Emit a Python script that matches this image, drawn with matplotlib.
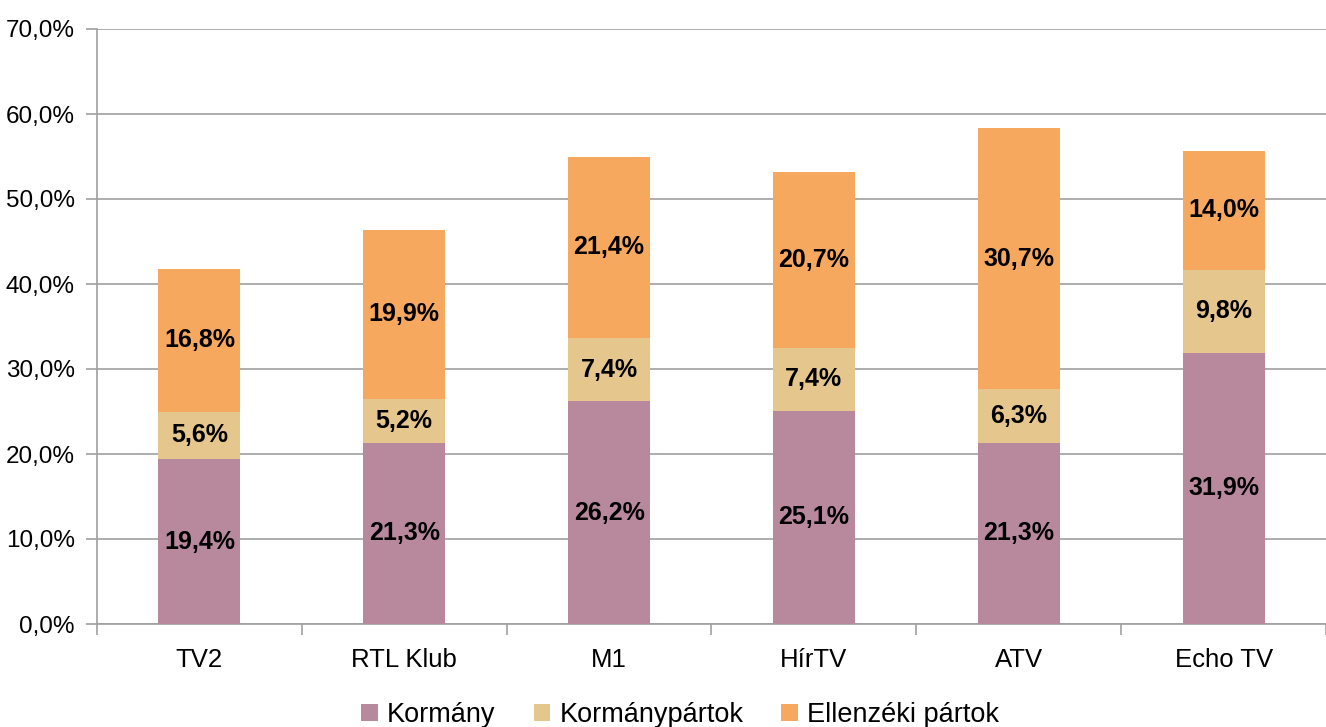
import matplotlib.pyplot as plt
import numpy as np

plt.rcParams['font.family'] = ['Liberation Sans', 'DejaVu Sans']

channels = ["TV2", "RTL Klub", "M1", "HírTV", "ATV", "Echo TV"]
kormany = [19.4, 21.3, 26.2, 25.1, 21.3, 31.9]
kormanypartok = [5.6, 5.2, 7.4, 7.4, 6.3, 9.8]
ellenzeki = [16.8, 19.9, 21.4, 20.7, 30.7, 14.0]

series = [("Kormány", kormany, "#B8899D"),
          ("Kormánypártok", kormanypartok, "#E5C68C"),
          ("Ellenzéki pártok", ellenzeki, "#F7A85F")]

fig = plt.figure(figsize=(13.26, 7.27), dpi=100)
ax = fig.add_axes([97/1326, 1 - 624/727, 1 - 97/1326, (624 - 29)/727])

x = np.arange(len(channels))
bottom = np.zeros(len(channels))
for name, vals, col in series:
    vals = np.array(vals)
    ax.bar(x, vals, 0.4, bottom=bottom, color=col, label=name, zorder=3)
    for xi, b, v in zip(x, bottom, vals):
        ax.text(xi, b + v / 2, f"{v:.1f}%".replace(".", ","), ha="center", va="center",
                fontsize=18, fontweight="bold", zorder=4)
    bottom += vals

ax.set_xlim(-0.5, len(channels) - 0.5)
ax.set_ylim(0, 70)
ax.set_yticks(np.arange(0, 71, 10))
ax.set_yticklabels([f"{v:.1f}%".replace(".", ",") for v in np.arange(0, 71, 10)], fontsize=17.5)
ax.yaxis.grid(True, color="#A0A0A0", linewidth=1.2, zorder=0)

ax.set_xticks(x)
ax.set_xticklabels(channels, fontsize=18.5)
ax.set_xticks(np.arange(-0.5, len(channels)), minor=True)
ax.tick_params(axis="x", which="major", length=0, pad=17)
ax.tick_params(axis="x", which="minor", length=8, color="#A0A0A0", width=1.2)
ax.tick_params(axis="y", length=8, color="#A0A0A0", width=1.2, pad=8)

for s in ["top", "right"]:
    ax.spines[s].set_visible(False)
for s in ["left", "bottom"]:
    ax.spines[s].set_color("#A0A0A0")
    ax.spines[s].set_linewidth(1.2)

fig.legend(loc="lower center", bbox_to_anchor=(0.513, -0.035), ncol=3, frameon=False,
           fontsize=19.5, handlelength=0.6, handleheight=0.6, columnspacing=1.4, handletextpad=0.35)

fig.savefig("out.png", dpi=100)
